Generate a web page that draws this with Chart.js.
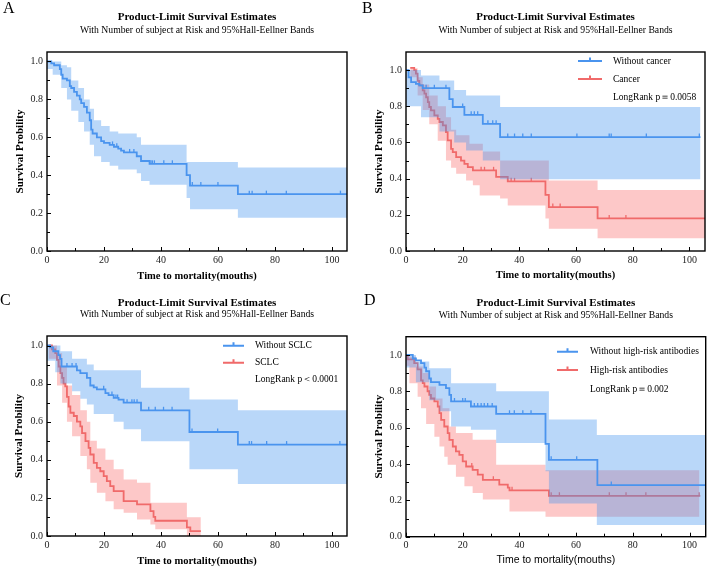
<!DOCTYPE html>
<html>
<head>
<meta charset="utf-8">
<script src="https://cdn.jsdelivr.net/npm/chart.js@4.4.1/dist/chart.umd.min.js"></script>
<style>
  body { margin: 0; background: #fff; }
  #wrap { position: relative; width: 711px; height: 568px; }
  canvas { position: absolute; }
  .tag { position: absolute; font: 16px "Liberation Serif", "Times New Roman", serif; line-height: 1; color: #000; }
</style>
</head>
<body>
<div id="wrap">
  <canvas id="chartA" width="355" height="284" style="left:0;top:0"></canvas>
  <canvas id="chartB" width="356" height="284" style="left:355px;top:0"></canvas>
  <canvas id="chartC" width="355" height="284" style="left:0;top:284px"></canvas>
  <canvas id="chartD" width="356" height="284" style="left:355px;top:284px"></canvas>
  <div class="tag" style="left:3px;top:0">A</div>
  <div class="tag" style="left:362px;top:0">B</div>
  <div class="tag" style="left:0;top:292px">C</div>
  <div class="tag" style="left:364px;top:292px">D</div>
</div>
<script>
// axis ticks
const xTicks = [0, 20, 40, 60, 80, 100];
const xMinor = [10, 30, 50, 70, 90];
const yTicks = [0, 0.2, 0.4, 0.6, 0.8, 1.0];
const yMinor = [0.1, 0.3, 0.5, 0.7, 0.9];

// ---- A: all patients
const aTime = [0, 1.5, 2.5, 4.5, 5, 5.5, 7, 8, 8.5, 9.5, 10.5, 11.5, 12, 13, 14, 15, 15.5, 16, 17.5, 19, 20, 22, 23.5, 25, 26, 27, 31.5, 33, 36, 49, 50.2, 67, 105.3];
const aSurv = [1, 0.99, 0.98, 0.96, 0.93, 0.91, 0.90, 0.87, 0.86, 0.84, 0.82, 0.80, 0.78, 0.76, 0.73, 0.69, 0.64, 0.62, 0.60, 0.58, 0.57, 0.56, 0.55, 0.54, 0.53, 0.52, 0.50, 0.475, 0.46, 0.40, 0.345, 0.30, 0.30];
const aCensor = [23, 24.5, 29, 30.5, 36.5, 37, 37.7, 41, 44, 51, 54, 60, 71, 72, 77, 84, 103];
const aBandT = [0, 2, 5, 7, 8.5, 11, 13, 15, 16.5, 19, 22, 25, 31.5, 33, 36, 49, 50.2, 67, 105.3];
const aBandHi = [1, 1, 0.98, 0.97, 0.90, 0.86, 0.80, 0.75, 0.69, 0.66, 0.63, 0.62, 0.60, 0.56, 0.56, 0.47, 0.47, 0.44, 0.44];
const aBandLo = [0.96, 0.93, 0.86, 0.80, 0.74, 0.68, 0.63, 0.56, 0.50, 0.47, 0.45, 0.43, 0.41, 0.37, 0.35, 0.28, 0.22, 0.175, 0.175];

// ---- B: without cancer / cancer
const bBlueTime = [0, 0.9, 1.8, 3.5, 4.7, 5.9, 15.3, 16.5, 20.6, 27.1, 33.2, 103.9];
const bBlueSurv = [1, 0.96, 0.934, 0.924, 0.915, 0.90, 0.84, 0.796, 0.753, 0.703, 0.63, 0.63];
const bBlueCensor = [7.1, 10, 14.1, 20, 23, 24.1, 25.3, 28.9, 30.6, 31.8, 35.9, 38.3, 41.2, 44.2, 60.3, 71.7, 72.4, 84.8, 103.5];
const bBlueBandT = [0, 5.3, 11.8, 17, 21.2, 27.1, 33.2, 103.9];
const bBlueBandHi = [1.0, 0.97, 0.943, 0.89, 0.86, 0.86, 0.796, 0.796];
const bBlueBandLo = [0.80, 0.74, 0.66, 0.60, 0.556, 0.50, 0.396, 0.396];

const bRedTime = [1.5, 2.9, 3.5, 4.1, 4.7, 5.9, 6.5, 7.1, 7.7, 8.2, 8.8, 10, 11.2, 11.8, 13, 14.1, 14.7, 15.9, 16.5, 17.7, 19.4, 20.6, 21.8, 23.6, 31.8, 35.9, 49.2, 50.4, 67.6, 105.5];
const bRedSurv = [1.012, 1.0, 0.98, 0.94, 0.915, 0.888, 0.87, 0.85, 0.823, 0.796, 0.777, 0.75, 0.73, 0.713, 0.694, 0.657, 0.611, 0.565, 0.547, 0.519, 0.50, 0.482, 0.464, 0.446, 0.41, 0.385, 0.31, 0.243, 0.18, 0.18];
const bRedCensor = [26.5, 27.7, 30.9, 37.1, 38.3, 44.2, 51.8, 54.4, 71.7, 77.6];
const bRedBandT = [1.5, 4.1, 5.9, 8.2, 11.2, 14.1, 15.9, 17.7, 21.2, 22.4, 23.6, 26, 27.1, 33.2, 35.9, 49.2, 50.4, 67.6, 105.5];
const bRedBandHi = [1.01, 0.96, 0.92, 0.86, 0.80, 0.74, 0.67, 0.64, 0.64, 0.593, 0.593, 0.593, 0.55, 0.50, 0.50, 0.50, 0.39, 0.337, 0.337];
const bRedBandLo = [0.96, 0.86, 0.78, 0.70, 0.61, 0.50, 0.46, 0.427, 0.39, 0.39, 0.363, 0.307, 0.307, 0.29, 0.252, 0.18, 0.123, 0.07, 0.07];

// ---- C: without SCLC / SCLC
const cBlueTime = [0, 1.1, 2.2, 4, 4.6, 5.1, 10.5, 11.7, 14, 15.2, 16.4, 17.5, 20.5, 21.6, 23.4, 25.1, 26.9, 33, 50, 67, 105.3];
const cBlueSurv = [1, 0.99, 0.97, 0.95, 0.93, 0.89, 0.87, 0.855, 0.83, 0.79, 0.78, 0.77, 0.75, 0.74, 0.725, 0.716, 0.70, 0.66, 0.546, 0.48, 0.48];
const cBlueCensor = [7, 8.8, 10.2, 19.9, 22.8, 24.2, 24.8, 28.1, 29.8, 30.6, 31.6, 35.7, 38, 40.9, 43.9, 50.9, 59.9, 71, 71.8, 77.1, 84.1, 102.8];
const cBlueBandT = [0, 2.9, 4.7, 8.8, 11.7, 14, 16.4, 23.4, 26.9, 33, 50, 67, 105.3];
const cBlueBandHi = [1.0, 1.0, 0.97, 0.93, 0.93, 0.90, 0.87, 0.87, 0.87, 0.778, 0.716, 0.66, 0.66];
const cBlueBandLo = [0.92, 0.86, 0.80, 0.76, 0.72, 0.69, 0.64, 0.60, 0.56, 0.498, 0.35, 0.273, 0.273];

const cRedTime = [0.6, 1.75, 2.9, 3.5, 4.1, 4.7, 5.3, 5.8, 6.4, 7, 7.6, 8.2, 9.4, 10.5, 11.7, 12.3, 13.5, 14.6, 15.2, 16.4, 17.5, 18.7, 19.9, 21, 22.2, 23.4, 26.9, 31.6, 36.3, 37.4, 38, 49.1, 50.3, 54];
const cRedSurv = [1.0, 0.98, 0.96, 0.925, 0.89, 0.855, 0.83, 0.80, 0.786, 0.73, 0.68, 0.647, 0.63, 0.60, 0.576, 0.54, 0.498, 0.463, 0.428, 0.384, 0.358, 0.34, 0.314, 0.288, 0.262, 0.236, 0.183, 0.166, 0.131, 0.10, 0.08, 0.045, 0.026, 0.026];
const cRedCensor = [];
const cRedBandT = [0.6, 3.5, 5.3, 7, 8.8, 11.7, 14, 15.2, 17.5, 20.5, 23.4, 26.9, 31.6, 36.3, 38, 49.1, 54];
const cRedBandHi = [1.0, 0.96, 0.89, 0.79, 0.74, 0.66, 0.60, 0.50, 0.46, 0.40, 0.35, 0.297, 0.28, 0.175, 0.175, 0.098, 0.098];
const cRedBandLo = [0.93, 0.79, 0.70, 0.60, 0.524, 0.42, 0.35, 0.28, 0.227, 0.183, 0.14, 0.122, 0.087, 0.06, 0.035, 0.0, 0.0];

// ---- D: without high-risk antibodies / high-risk antibodies
const dBlueTime = [0, 2.4, 3.5, 5.3, 6.5, 7.1, 8.2, 8.8, 11.8, 14.1, 15.3, 15.9, 22.9, 31.8, 49.2, 50.4, 67.5, 105.7];
const dBlueSurv = [1, 0.98, 0.97, 0.955, 0.93, 0.91, 0.87, 0.85, 0.835, 0.817, 0.78, 0.744, 0.716, 0.676, 0.511, 0.423, 0.284, 0.284];
const dBlueCensor = [17.1, 20, 20.9, 24.1, 25.3, 26.5, 27.6, 28.8, 30.4, 36.5, 38.2, 41.2, 44.1, 51.2, 60.2, 72.4];
const dBlueBandT = [0, 3.5, 8.2, 11.8, 15.9, 22.9, 31.8, 49.2, 50.4, 67.3, 105.7];
const dBlueBandHi = [1.0, 0.963, 0.927, 0.927, 0.844, 0.844, 0.80, 0.80, 0.645, 0.559, 0.559];
const dBlueBandLo = [0.93, 0.85, 0.75, 0.69, 0.606, 0.588, 0.515, 0.36, 0.183, 0.064, 0.064];

const dRedTime = [0, 0.6, 2.9, 4.1, 5.3, 5.9, 6.5, 7.6, 8.2, 8.8, 10, 11.2, 11.8, 12.4, 13.5, 14.7, 15.3, 16.5, 17.6, 18.8, 20, 21.2, 23.5, 25.3, 27.1, 32.9, 35.9, 36.5, 50.4, 103.8];
const dRedSurv = [1.0, 0.975, 0.955, 0.92, 0.86, 0.845, 0.826, 0.80, 0.78, 0.76, 0.744, 0.716, 0.68, 0.643, 0.606, 0.57, 0.533, 0.496, 0.469, 0.45, 0.414, 0.386, 0.368, 0.341, 0.313, 0.286, 0.27, 0.255, 0.225, 0.225];
const dRedCensor = [23.2, 30.8, 37.4, 51.2, 54.1, 71.7, 77.6, 84.6, 103.4];
const dRedBandT = [0, 1.2, 3.5, 4.1, 5.3, 5.9, 7.1, 8.2, 10, 10.6, 11.8, 12.9, 13.5, 14.7, 15.3, 17.6, 20.6, 23.5, 27.1, 31.8, 36.5, 49.2, 103.5];
const dRedBandHi = [1.0, 0.99, 0.936, 0.936, 0.936, 0.90, 0.90, 0.826, 0.826, 0.76, 0.76, 0.707, 0.707, 0.707, 0.606, 0.57, 0.57, 0.533, 0.533, 0.396, 0.396, 0.366, 0.366];
const dRedBandLo = [0.94, 0.844, 0.844, 0.77, 0.707, 0.707, 0.62, 0.62, 0.55, 0.55, 0.496, 0.496, 0.44, 0.396, 0.396, 0.33, 0.277, 0.24, 0.205, 0.205, 0.139, 0.11, 0.11];

const BLUE = '#4A94EE', RED = '#F06A6A';
const BLUE_BAND = 'rgba(66,146,240,0.37)', RED_BAND = 'rgba(250,110,110,0.38)';

Chart.defaults.font.family = '"Liberation Serif", "Times New Roman", serif';
Chart.defaults.color = '#000';

function survAt(ts, ss, t) {
  let v = ss[0];
  for (let i = 0; i < ts.length; i++) if (ts[i] <= t) v = ss[i];
  return v;
}

// one survival group -> line, censor marks, band (upper + lower filled)
function kmSets(g, order) {
  const pts = (ts, vs) => ts.map((t, i) => ({x: t, y: vs[i]}));
  return [
    {data: pts(g.time, g.surv), stepped: true, borderColor: g.color, borderWidth: 1.8,
     pointRadius: 0, fill: false, order: order},
    {data: g.censor.map(t => ({x: t, y: survAt(g.time, g.surv, t)})), showLine: false,
     pointStyle: 'dash', pointRotation: 270, pointRadius: 3.5,
     pointBorderColor: g.color, pointBackgroundColor: g.color, pointBorderWidth: 1.3, order: order},
    {data: pts(g.bandT, g.hi), stepped: true, borderColor: 'transparent', borderWidth: 0,
     pointRadius: 0, fill: false, order: order + 1},
    {data: pts(g.bandT, g.lo), stepped: true, borderColor: 'transparent', borderWidth: 0,
     pointRadius: 0, fill: '-1', backgroundColor: g.band, order: order + 1}
  ];
}

// frame, inward ticks and the in-plot legend
const kmDecor = {
  id: 'kmDecor',
  afterDatasetsDraw(chart, args, opts) {
    const {ctx, chartArea: a, scales: {x, y}} = chart;
    ctx.save();
    ctx.strokeStyle = '#000';
    ctx.lineWidth = 1;
    ctx.beginPath();
    xTicks.concat(xMinor).forEach(v => {
      const px = Math.round(x.getPixelForValue(v)) + 0.5;
      const len = xTicks.includes(v) ? 4 : 3;
      ctx.moveTo(px, a.bottom);
      ctx.lineTo(px, a.bottom - len);
    });
    yTicks.concat(yMinor).forEach(v => {
      const py = Math.round(y.getPixelForValue(v)) + 0.5;
      const len = yTicks.includes(v) ? 4 : 3;
      ctx.moveTo(a.left, py);
      ctx.lineTo(a.left + len, py);
    });
    ctx.stroke();
    ctx.lineWidth = 1.4;
    ctx.strokeRect(a.left, a.top, a.right - a.left, a.bottom - a.top);

    if (opts.items) {
      ctx.font = '9.5px "Liberation Serif", "Times New Roman", serif';
      ctx.textBaseline = 'middle';
      ctx.textAlign = 'left';
      opts.items.forEach((it, i) => {
        const yy = a.top + opts.rows[i];
        const x0 = a.left + opts.symX;
        ctx.strokeStyle = it.color;
        ctx.lineWidth = 2;
        ctx.beginPath();
        ctx.moveTo(x0, yy);
        ctx.lineTo(x0 + opts.symLen, yy);
        ctx.moveTo(x0 + opts.symLen / 2, yy);
        ctx.lineTo(x0 + opts.symLen / 2, yy - 3.5);
        ctx.stroke();
        ctx.fillStyle = '#000';
        ctx.fillText(it.text, a.left + opts.textX, yy);
      });
      ctx.fillText(opts.note, a.left + opts.textX, a.top + opts.rows[2]);
    }
    ctx.restore();
  }
};

function makePanel(id, groups, c) {
  const datasets = [];
  groups.forEach((g, k) => datasets.push(...kmSets(g, k * 2)));
  new Chart(document.getElementById(id), {
    type: 'line',
    data: {datasets},
    plugins: [kmDecor],
    options: {
      responsive: false,
      animation: false,
      events: [],
      layout: {padding: {top: 0, right: c.padRight, bottom: 0, left: 0}},
      plugins: {
        legend: {display: false},
        tooltip: {enabled: false},
        title: {display: true, fullSize: false, text: 'Product-Limit Survival Estimates',
                font: {size: 11, weight: 'bold', lineHeight: c.titleLH + 'px'},
                padding: {top: c.titleTop, bottom: 0}},
        subtitle: {display: true, fullSize: false, color: '#000',
                   text: 'With Number of subject at Risk and 95%Hall-Eellner Bands',
                   font: {size: 9.7, lineHeight: '12px'},
                   padding: {top: c.subTop, bottom: c.subBottom}},
        kmDecor: c.legend || {}
      },
      scales: {
        x: {
          type: 'linear', min: 0, max: c.xMax,
          afterBuildTicks: s => { s.ticks = xTicks.map(v => ({value: v})); },
          afterFit: s => { s.height = c.xHeight; },
          grid: {display: false, drawTicks: false},
          border: {display: false},
          ticks: {padding: 3, color: '#222', font: {size: 10}, callback: v => String(v), maxRotation: 0},
          title: {display: true, text: 'Time to mortality(mouths)',
                  font: c.xTitleFont || {size: 10.5, weight: 'bold', lineHeight: '12px'},
                  padding: {top: 0, bottom: c.xTitleBottom}}
        },
        y: {
          type: 'linear', min: 0, max: c.yMax,
          afterBuildTicks: s => { s.ticks = yTicks.map(v => ({value: v})); },
          afterFit: s => { s.width = c.yWidth; },
          grid: {display: false, drawTicks: false},
          border: {display: false},
          ticks: {padding: 4, color: '#222', font: {size: 10}, callback: v => v.toFixed(1)},
          title: {display: true, text: 'Survival Probility',
                  font: {size: 11, weight: 'bold', lineHeight: '12px'},
                  padding: {top: c.yTitlePad, bottom: 0}}
        }
      }
    }
  });
}

makePanel('chartA', [
  {color: BLUE, band: BLUE_BAND, time: aTime, surv: aSurv, censor: aCensor, bandT: aBandT, hi: aBandHi, lo: aBandLo}
], {padRight: 8, yWidth: 47, xHeight: 33, xMax: 105.3, yMax: 1.05, titleLH: 12, titleTop: 11,
    subTop: 1, subBottom: 16, xTitleBottom: 2, yTitlePad: 14});

makePanel('chartB', [
  {color: BLUE, band: BLUE_BAND, time: bBlueTime, surv: bBlueSurv, censor: bBlueCensor, bandT: bBlueBandT, hi: bBlueBandHi, lo: bBlueBandLo},
  {color: RED, band: RED_BAND, time: bRedTime, surv: bRedSurv, censor: bRedCensor, bandT: bRedBandT, hi: bRedBandHi, lo: bRedBandLo}
], {padRight: 6, yWidth: 51, xHeight: 33, xMax: 105.5, yMax: 1.1, titleLH: 12, titleTop: 11,
    subTop: 1, subBottom: 16, xTitleBottom: 3, yTitlePad: 18,
    legend: {items: [{text: 'Without cancer', color: BLUE}, {text: 'Cancer', color: RED}],
             note: 'LongRank p＝0.0058', rows: [9, 27, 45], symX: 172, symLen: 24, textX: 207}});

makePanel('chartC', [
  {color: BLUE, band: BLUE_BAND, time: cBlueTime, surv: cBlueSurv, censor: cBlueCensor, bandT: cBlueBandT, hi: cBlueBandHi, lo: cBlueBandLo},
  {color: RED, band: RED_BAND, time: cRedTime, surv: cRedSurv, censor: cRedCensor, bandT: cRedBandT, hi: cRedBandHi, lo: cRedBandLo}
], {padRight: 8, yWidth: 47, xHeight: 32, xMax: 105.3, yMax: 1.05, titleLH: 11, titleTop: 13.5,
    subTop: 0, subBottom: 15.5, xTitleBottom: 1, yTitlePad: 13,
    legend: {items: [{text: 'Without SCLC', color: BLUE}, {text: 'SCLC', color: RED}],
             note: 'LongRank p＜0.0001', rows: [9.7, 26.7, 43], symX: 176, symLen: 21, textX: 208}});

makePanel('chartD', [
  {color: BLUE, band: BLUE_BAND, time: dBlueTime, surv: dBlueSurv, censor: dBlueCensor, bandT: dBlueBandT, hi: dBlueBandHi, lo: dBlueBandLo},
  {color: RED, band: RED_BAND, time: dRedTime, surv: dRedSurv, censor: dRedCensor, bandT: dRedBandT, hi: dRedBandHi, lo: dRedBandLo}
], {padRight: 5.3, yWidth: 51, xHeight: 31.3, xMax: 105.7, yMax: 1.1, titleLH: 12, titleTop: 13,
    subTop: 0, subBottom: 15.7, xTitleBottom: 2, yTitlePad: 18,
    xTitleFont: {family: '"Liberation Sans", Arial, sans-serif', size: 10.5, lineHeight: '12px'},
    legend: {items: [{text: 'Without high-risk antibodies', color: BLUE}, {text: 'High-risk antibodies', color: RED}],
             note: 'LongRank p＝0.002', rows: [15, 33.3, 52.3], symX: 151, symLen: 21, textX: 184}});
</script>
</body>
</html>
